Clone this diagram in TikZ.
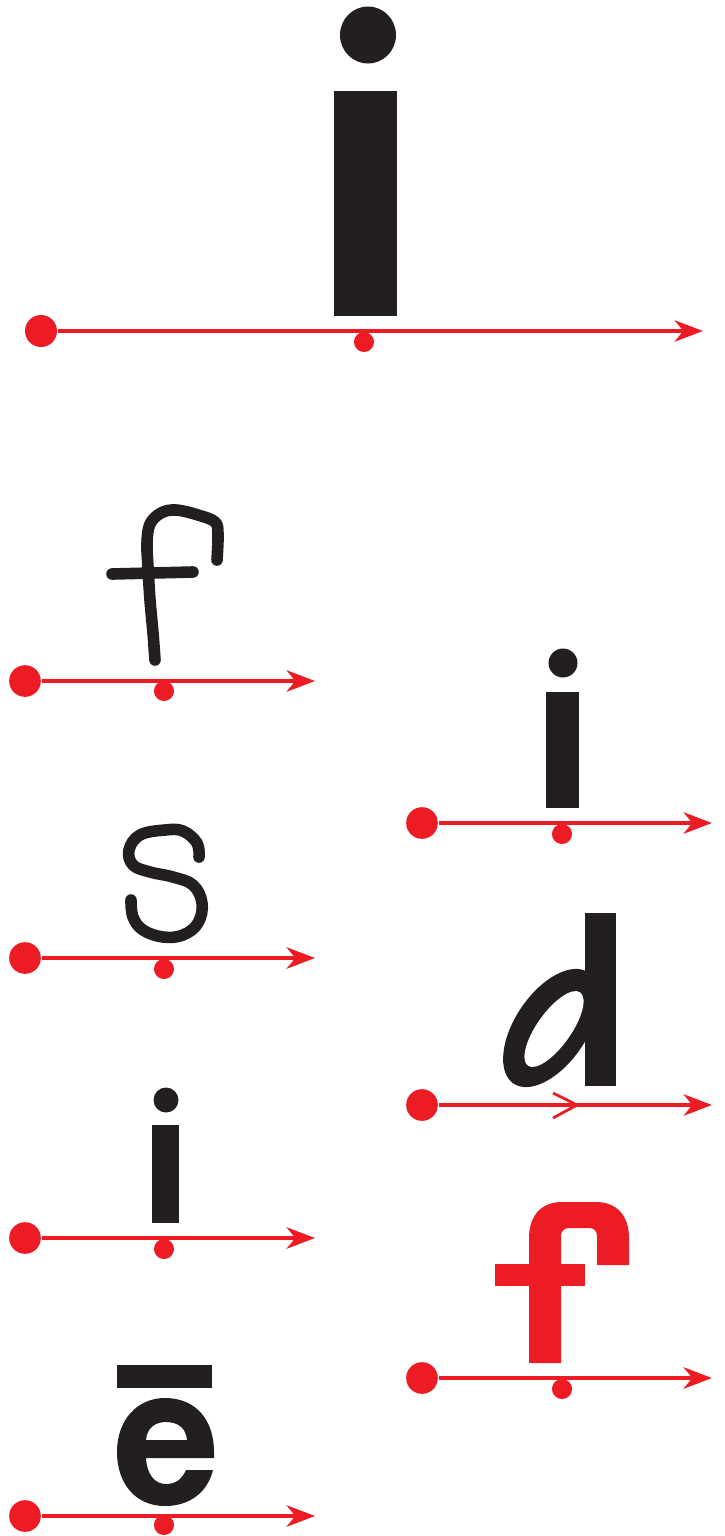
\documentclass[tikz,border=0pt]{standalone}
\usetikzlibrary{arrows.meta}
\definecolor{inkred}{HTML}{ED1C24}
\definecolor{ink}{HTML}{231F20}
\begin{document}
\begin{tikzpicture}[x=0.01cm,y=-0.01cm,
  baseline line/.style={draw=inkred, line width=1.4pt, -{Stealth[length=8pt,width=6pt,inset=2.4pt]}},
  startdot/.style={circle, fill=inkred, inner sep=0pt, minimum size=9pt},
  markdot/.style={circle, fill=inkred, inner sep=0pt, minimum size=5.7pt},
  glyph/.style={fill=ink},
  redglyph/.style={fill=inkred},
  pen/.style={draw=ink, line width=3.3pt, line cap=round, line join=round}]
\useasboundingbox (0,0) rectangle (724,1536);

% ---------- baselines ----------
% top
\node[startdot, minimum size=9.1pt] (s1) at (41,331) {};
\coordinate (e1) at (703,331);
\draw[baseline line] (s1) -- (e1);
\node[markdot] (m1) at (364,342) {};
% f (handwritten)
\node[startdot] (s2) at (25,681) {};
\coordinate (e2) at (315,681);
\draw[baseline line] (s2) -- (e2);
\node[markdot] (m2) at (164,691) {};
% s
\node[startdot] (s3) at (25,958) {};
\coordinate (e3) at (315,958);
\draw[baseline line] (s3) -- (e3);
\node[markdot] (m3) at (164,969) {};
% i left
\node[startdot] (s4) at (25,1238) {};
\coordinate (e4) at (315,1238);
\draw[baseline line] (s4) -- (e4);
\node[markdot] (m4) at (164,1249) {};
% e
\node[startdot] (s5) at (25,1516) {};
\coordinate (e5) at (315,1516);
\draw[baseline line] (s5) -- (e5);
\node[markdot] (m5) at (164,1525) {};
% i right
\node[startdot] (s6) at (422,823) {};
\coordinate (e6) at (712,823);
\draw[baseline line] (s6) -- (e6);
\node[markdot] (m6) at (562,834) {};
% d
\node[startdot] (s7) at (422,1105) {};
\coordinate (e7) at (712,1105);
\draw[baseline line] (s7) -- (e7);
\draw[inkred, line width=0.8pt] (553,1093) -- (577,1105) -- (553,1118);
% red f
\node[startdot] (s8) at (422,1378) {};
\coordinate (e8) at (712,1378);
\draw[baseline line] (s8) -- (e8);
\node[markdot] (m8) at (562,1389) {};

% ---------- glyphs ----------
% big i
\fill[glyph] (368,35) ellipse [x radius=28, y radius=28.5];
\fill[glyph] (334,91) rectangle (397,316);
% right i
\fill[glyph] (563,663) circle [radius=14.5];
\fill[glyph] (546,692) rectangle (579,808);
% left i
\fill[glyph] (166,1100) circle [radius=12.5];
\fill[glyph] (152,1125) rectangle (179,1223);
% handwritten f
\draw[pen] plot[smooth, tension=0.6] coordinates {(155,660) (153,633) (150,600) (148,567) (147,543) (150,524) (161,513) (176,510) (198,515) (215,522) (218,534) (217,560)};
\draw[pen] (112,574) -- (193,572);
% handwritten s
\draw[pen] plot[smooth, tension=0.65] coordinates {(199,857) (197,843) (183,831) (165,830) (140,835) (129,850) (133,865) (150,872) (173,877) (193,885) (202,903) (198,923) (183,935) (163,937) (143,930) (133,917) (131,900)};
% e with macron
\fill[glyph] (117,1365) rectangle (212,1388);
\fill[glyph, even odd rule]
  (214,1458) -- (146,1458) .. controls (147,1475) and (155,1484) .. (166,1484)
  .. controls (176,1484) and (182,1479) .. (186,1470) -- (213,1470)
  .. controls (207,1494) and (188,1506) .. (165,1506)
  .. controls (135,1506) and (117,1483) .. (117,1452)
  .. controls (117,1420) and (137,1398) .. (165,1398)
  .. controls (196,1398) and (214,1420) .. (214,1452) -- cycle
  (146,1440) -- (187,1440) .. controls (186,1428) and (178,1422) .. (166,1422)
  .. controls (155,1422) and (147,1428) .. (146,1440) -- cycle;
% d
\fill[glyph, rotate around={56:(551,1028)}] (551,1028) ellipse [x radius=67, y radius=36];
\fill[white, rotate around={54.5:(554,1029)}] (554,1029) ellipse [x radius=45, y radius=17];
\fill[glyph] (585,913) rectangle (616,1086);
% red f
\fill[redglyph] (529,1363) -- (529,1238) .. controls (529,1216) and (541,1202) .. (562,1202)
  -- (596,1202) .. controls (617,1202) and (629,1216) .. (629,1238) -- (629,1265)
  -- (597,1265) -- (597,1236) .. controls (597,1231) and (594,1228) .. (589,1228)
  -- (569,1228) .. controls (564,1228) and (561,1231) .. (561,1236) -- (561,1363) -- cycle;
\fill[redglyph] (495,1264) rectangle (585,1286);
\end{tikzpicture}
\end{document}
